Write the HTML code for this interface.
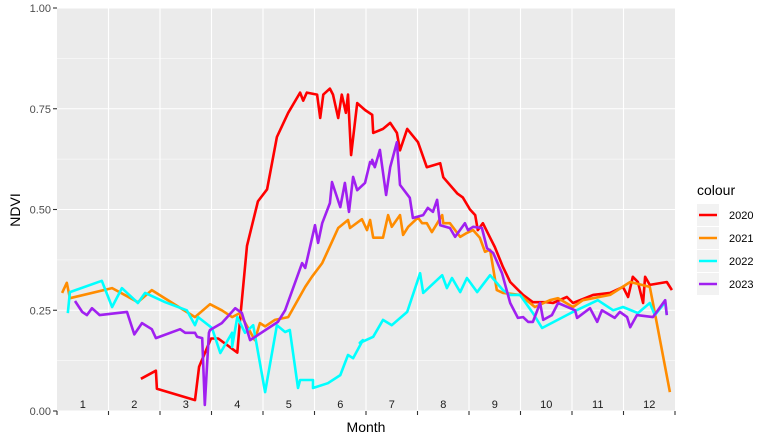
<!DOCTYPE html>
<html><head><meta charset="utf-8"><style>
body{margin:0;background:#fff;}
svg{display:block;font-family:"Liberation Sans",Arial,sans-serif;}
</style></head><body>
<svg id="chart" width="773" height="442"></svg>
<script>
const monthLabels=["1","2","3","4","5","6","7","8","9","10","11","12"];
const yTicks=[0,0.25,0.5,0.75,1.0];
const yTickLabels=["0.00","0.25","0.50","0.75","1.00"];
const seriesNames=["2020","2021","2022","2023"];
const seriesColors=["#FF0000","#FF8C00","#00FFFF","#A020F0"];
const t2020=[1.63,1.92,1.94,2.68,2.76,2.99,3.13,3.50,3.55,3.69,3.90,4.08,4.27,4.49,4.72,4.78,4.85,5.05,5.11,5.17,5.30,5.36,5.46,5.53,5.61,5.65,5.71,5.83,5.98,6.12,6.14,6.33,6.47,6.60,6.66,6.80,7.01,7.18,7.44,7.50,7.77,7.88,8.02,8.12,8.17,8.27,8.41,8.50,8.66,8.80,9.05,9.24,9.51,9.63,9.90,10.02,10.41,10.74,10.99,11.09,11.18,11.28,11.38,11.42,11.51,11.84,11.94];
const v2020=[0.08,0.10,0.055,0.027,0.11,0.18,0.18,0.145,0.22,0.41,0.52,0.55,0.68,0.74,0.79,0.77,0.79,0.785,0.727,0.785,0.80,0.785,0.727,0.785,0.74,0.785,0.635,0.764,0.747,0.735,0.69,0.70,0.715,0.69,0.647,0.70,0.667,0.605,0.615,0.58,0.54,0.53,0.50,0.486,0.449,0.466,0.43,0.407,0.357,0.32,0.288,0.27,0.27,0.268,0.283,0.268,0.288,0.293,0.308,0.283,0.333,0.32,0.268,0.333,0.313,0.32,0.30];
const t2021=[0.10,0.19,0.25,1.07,1.57,1.84,2.68,2.97,3.20,3.40,3.55,3.84,3.94,4.04,4.23,4.49,4.82,4.95,5.15,5.34,5.46,5.65,5.69,5.92,6.02,6.08,6.14,6.33,6.43,6.50,6.66,6.72,6.82,7.01,7.09,7.18,7.28,7.48,7.50,7.63,7.83,7.96,8.08,8.21,8.31,8.41,8.54,8.66,8.99,9.28,9.57,9.73,10.02,10.21,10.74,11.13,11.51,11.61,11.90];
const v2021=[0.293,0.318,0.28,0.305,0.27,0.30,0.233,0.265,0.25,0.233,0.243,0.176,0.218,0.21,0.226,0.233,0.308,0.333,0.367,0.42,0.454,0.474,0.454,0.476,0.449,0.474,0.43,0.43,0.486,0.457,0.486,0.437,0.457,0.48,0.466,0.466,0.444,0.486,0.466,0.466,0.432,0.442,0.449,0.43,0.395,0.40,0.30,0.293,0.288,0.258,0.275,0.28,0.258,0.275,0.288,0.32,0.308,0.243,0.047];
const t2022=[0.21,0.25,0.87,1.07,1.26,1.57,1.71,2.10,2.52,2.68,2.74,3.01,3.17,3.40,3.40,3.50,3.65,3.81,4.04,4.27,4.43,4.52,4.68,4.72,4.97,4.97,5.26,5.50,5.65,5.75,5.94,5.88,6.14,6.33,6.50,6.80,7.05,7.11,7.48,7.57,7.67,7.83,7.96,8.16,8.41,8.66,8.80,8.99,9.24,9.42,10.02,10.50,10.80,10.99,11.28,11.51,11.61,11.81,11.84];
const v2022=[0.243,0.295,0.323,0.258,0.305,0.268,0.293,0.27,0.25,0.213,0.233,0.206,0.144,0.194,0.159,0.233,0.194,0.213,0.047,0.213,0.196,0.201,0.057,0.077,0.077,0.057,0.069,0.089,0.139,0.131,0.176,0.169,0.184,0.226,0.213,0.246,0.342,0.293,0.337,0.305,0.33,0.295,0.33,0.295,0.337,0.30,0.288,0.288,0.243,0.206,0.246,0.275,0.25,0.258,0.243,0.268,0.238,0.27,0.238];
const t2023=[0.35,0.49,0.58,0.68,0.83,1.36,1.50,1.65,1.84,1.92,2.39,2.49,2.68,2.72,2.82,2.87,2.95,2.97,3.20,3.46,3.59,3.75,4.29,4.43,4.76,4.82,5.01,5.07,5.15,5.30,5.34,5.50,5.59,5.67,5.75,5.83,5.98,6.08,6.16,6.12,6.17,6.27,6.39,6.47,6.60,6.66,6.85,6.91,7.11,7.20,7.30,7.38,7.44,7.63,7.73,7.92,7.98,8.08,8.25,8.35,8.47,8.64,8.80,8.95,9.05,9.15,9.24,9.38,9.44,9.61,9.73,10.06,10.10,10.35,10.49,10.58,10.83,10.93,11.07,11.13,11.26,11.57,11.81,11.84];
const v2023=[0.273,0.246,0.238,0.255,0.238,0.246,0.19,0.218,0.203,0.181,0.203,0.194,0.194,0.184,0.181,0.015,0.194,0.201,0.218,0.255,0.243,0.176,0.221,0.25,0.367,0.355,0.461,0.417,0.466,0.516,0.568,0.506,0.566,0.494,0.581,0.548,0.566,0.618,0.61,0.623,0.605,0.648,0.536,0.605,0.667,0.561,0.529,0.479,0.486,0.504,0.494,0.524,0.461,0.454,0.432,0.466,0.449,0.457,0.454,0.404,0.392,0.342,0.268,0.231,0.233,0.221,0.221,0.268,0.226,0.238,0.268,0.25,0.231,0.255,0.221,0.25,0.231,0.246,0.233,0.208,0.238,0.233,0.275,0.238];
const seriesT=[t2020,t2021,t2022,t2023];
const seriesV=[v2020,v2021,v2022,v2023];

const NS="http://www.w3.org/2000/svg";
const svg=document.getElementById('chart');
const PL=57,PR=675,PT=8,PB=411;
const xs=t=>PL+(t/12)*(PR-PL);
const ys=v=>PB-v*(PB-PT);
function mk(tag,attrs,parent){const e=document.createElementNS(NS,tag);for(const k in attrs)e.setAttribute(k,attrs[k]);(parent||svg).appendChild(e);return e;}

const panel=mk('rect',{x:PL,y:PT,width:PR-PL,height:PB-PT,fill:'#EBEBEB'});


const grid=mk('g',{});


for(let i=0;i<yTicks.length-1;i++){
  const m=(yTicks[i]+yTicks[i+1])/2;
  mk('line',{x1:PL,x2:PR,y1:ys(m),y2:ys(m),stroke:'#fff','stroke-width':0.6},grid);
}
yTicks.forEach(v=>mk('line',{x1:PL,x2:PR,y1:ys(v),y2:ys(v),stroke:'#fff','stroke-width':1.1},grid));
for(let m=1;m<12;m++)mk('line',{x1:xs(m),x2:xs(m),y1:PT,y2:PB,stroke:'#fff','stroke-width':1.1},grid);

monthLabels.forEach((lab,i)=>{
  const t=mk('text',{x:xs(i+0.5),y:408,'font-size':11,'text-anchor':'middle',fill:'#1a1a1a'});
  t.textContent=lab;
  
  
});

seriesT.forEach((ts,si)=>{
  const d=ts.map((t,i)=>(i?'L':'M')+xs(t).toFixed(1)+','+ys(seriesV[si][i]).toFixed(1)).join('');
  const p=mk('path',{d:d,fill:'none',stroke:seriesColors[si],'stroke-width':2.6,'stroke-linejoin':'round'});
  
  
});

for(let m=0;m<=12;m++)mk('line',{x1:xs(m),x2:xs(m),y1:PB,y2:PB+4,stroke:'#333','stroke-width':1.1});
yTicks.forEach((v,i)=>{
  mk('line',{x1:PL-4,x2:PL,y1:ys(v),y2:ys(v),stroke:'#333','stroke-width':1.1});
  const t=mk('text',{x:PL-6,y:ys(v)+4,'font-size':11,'text-anchor':'end',fill:'#4d4d4d'});
  t.textContent=yTickLabels[i];
  
  
});
const xt=mk('text',{x:366,y:432,'font-size':14,'text-anchor':'middle',fill:'#000'});
xt.textContent='Month';


const yt=mk('text',{x:0,y:0,'font-size':14,'text-anchor':'middle',fill:'#000',transform:'translate(20,210) rotate(-90)'});
yt.textContent='NDVI';



const lg=mk('g',{});


const lt=mk('text',{x:697,y:195,'font-size':14,fill:'#000'},lg);
lt.textContent='colour';
seriesNames.forEach((n,i)=>{
  const y=204+i*23;
  const e=mk('g',{},lg);
  
  
  mk('rect',{x:697,y:y,width:22,height:22,fill:'#F2F2F2'},e);
  mk('line',{x1:699,x2:717,y1:y+11,y2:y+11,stroke:seriesColors[i],'stroke-width':2.6},e);
  const tx=mk('text',{x:729,y:y+15,'font-size':11,fill:'#000'},e);
  tx.textContent=n;
});
</script>
</body></html>
